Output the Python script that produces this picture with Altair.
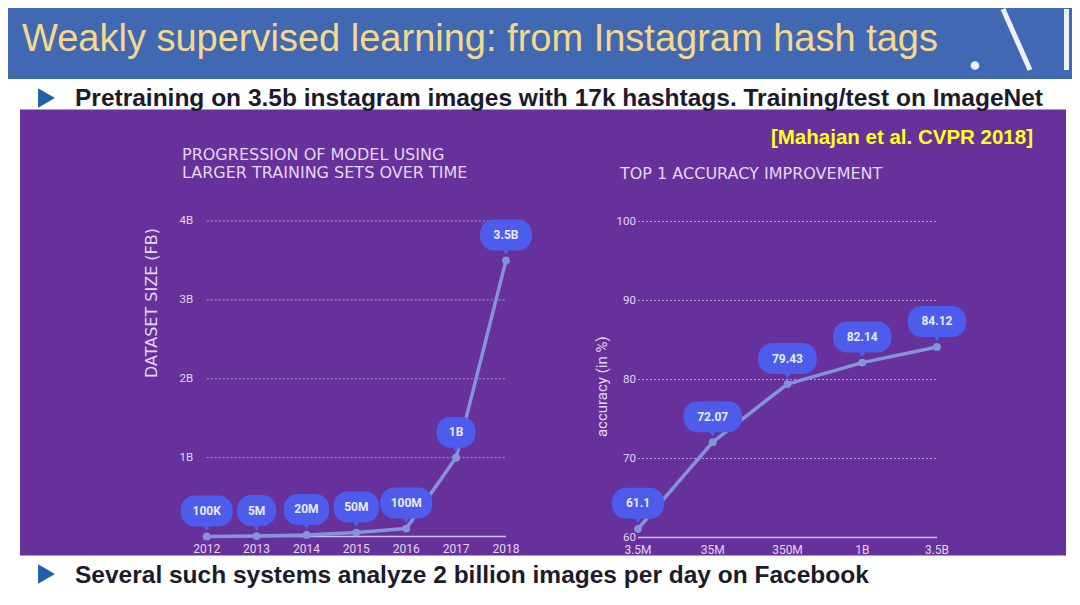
import altair as alt
import pandas as pd

# ---------------- data ----------------
years = [2012, 2013, 2014, 2015, 2016, 2017, 2018]
dataset_size_b = [0.0001, 0.005, 0.02, 0.05, 0.1, 1.0, 3.5]
size_labels = ["100K", "5M", "20M", "50M", "100M", "1B", "3.5B"]
size_ticks = [0, 1, 2, 3, 4]
size_tick_labels = ["", "1B", "2B", "3B", "4B"]

acc_buckets = ["3.5M", "35M", "350M", "1B", "3.5B"]
accuracy = [61.1, 72.07, 79.43, 82.14, 84.12]
acc_ticks = [60, 70, 80, 90, 100]

slide_title = "Weakly supervised learning: from Instagram hash tags"
bullet_1 = "Pretraining on 3.5b instagram images with 17k hashtags. Training/test on ImageNet"
bullet_2 = "Several such systems analyze 2 billion images per day on Facebook"
citation = "[Mahajan et al. CVPR 2018]"
left_title = ["PROGRESSION OF MODEL USING", "LARGER TRAINING SETS OVER TIME"]
right_title = "TOP 1 ACCURACY IMPROVEMENT"
left_ytitle = "DATASET SIZE (FB)"
right_ytitle = "accuracy (in %)"

# ---------------- styles ----------------
W, H = 1064, 589
HEAD = "#4169b3"
TITLE_C = "#f5d98b"
PURPLE = "#66319a"
BUB = "#4e5ceb"
LINE = "#8494dc"
GRID = "#b49ddb"
BASE = "#d2c1ee"
TICK = "#e3d7f4"
LBL = "#e8eaff"
CHART_FONT = "Roboto"
SLIDE_FONT = "Liberation Sans"

left_df = pd.DataFrame({"year": years, "size": dataset_size_b, "label": size_labels})
right_df = pd.DataFrame({"idx": list(range(len(acc_buckets))), "bucket": acc_buckets,
                         "acc": accuracy, "label": [f"{v:g}" for v in accuracy]})
gridL = pd.DataFrame({"v": size_ticks, "lab": size_tick_labels,
                      "x0": years[0], "x1": years[-1]})
gridR = pd.DataFrame({"v": acc_ticks, "lab": [str(t) for t in acc_ticks],
                      "x0": 0, "x1": len(acc_buckets) - 1})

xL = alt.Scale(domain=[years[0], years[-1]], range=[198.7, 498], nice=False, zero=False)
yL = alt.Scale(domain=[0, 4], range=[528.5, 213], nice=False, zero=False)
xR = alt.Scale(domain=[0, len(acc_buckets) - 1], range=[630, 929], nice=False, zero=False)
yR = alt.Scale(domain=[60, 100], range=[529.5, 213.5], nice=False, zero=False)

one = alt.Data(values=[{"a": 1}])


def txt(s, x, y, size, color, font=SLIDE_FONT, weight="normal", align="left",
        baseline="middle", angle=0):
    kw = dict(text=s, fontSize=size, color=color, font=font, fontWeight=weight,
              align=align, baseline=baseline)
    if angle:
        kw["angle"] = angle
    return alt.Chart(one).mark_text(**kw).encode(x=alt.value(x), y=alt.value(y))


# ---------------- decorations ----------------
header = alt.Chart(one).mark_rect(color=HEAD).encode(
    x=alt.value(0), x2=alt.value(W), y=alt.value(0), y2=alt.value(71))
panel = alt.Chart(one).mark_rect(color=PURPLE).encode(
    x=alt.value(12), x2=alt.value(1058), y=alt.value(101.5), y2=alt.value(547.5))
title = txt(slide_title, 14, 32, 38, TITLE_C)
logo_slash = alt.Chart(one).mark_rule(color="#eef0f8", strokeWidth=5).encode(
    x=alt.value(995), y=alt.value(1), x2=alt.value(1022), y2=alt.value(62))
logo_bar = alt.Chart(one).mark_rule(color="#eef0f8", strokeWidth=5).encode(
    x=alt.value(1058.5), y=alt.value(1), y2=alt.value(62))
logo_dot = alt.Chart(one).mark_circle(color="#eef0f8", size=75, opacity=1).encode(
    x=alt.value(967), y=alt.value(57.5))
tri1 = alt.Chart(one).mark_point(shape="triangle-right", filled=True, size=380,
                                 color="#1f5fae", opacity=1).encode(
    x=alt.value(38.5), y=alt.value(90))
tri2 = alt.Chart(one).mark_point(shape="triangle-right", filled=True, size=380,
                                 color="#1f5fae", opacity=1).encode(
    x=alt.value(38.5), y=alt.value(566))
b1 = txt(bullet_1, 67, 97.5, 24.5, "#1b1b2b", weight="bold", baseline="alphabetic")
b2 = txt(bullet_2, 67, 575, 24.5, "#1b1b2b", weight="bold", baseline="alphabetic")
cite = txt(citation, 1025, 130, 20.5, "#ffff1e", weight="bold", align="right")
lt1 = txt(left_title[0], 174, 147, 16, TICK, font="DejaVu Sans")
lt2 = txt(left_title[1], 174, 165, 16, TICK, font="DejaVu Sans")
rt = txt(right_title, 612, 165.5, 16, TICK, font="DejaVu Sans")
lyt = txt(left_ytitle, 144, 295, 16, TICK, font="DejaVu Sans", align="center", angle=270)
ryt = txt(right_ytitle, 593.7, 378.7, 15, TICK, font=CHART_FONT, align="center", angle=270)


# ---------------- panels ----------------
def panel_layers(df, xf, yf, xs, ys, grid, xlab_field, xlab_y, tick_dx):
    X = alt.X(xf, scale=xs, axis=None)
    Y = alt.Y(yf, scale=ys, axis=None)
    gX = alt.X("x0:Q", scale=xs, axis=None)
    gY = alt.Y("v:Q", scale=ys, axis=None)
    gridlines = alt.Chart(grid).transform_filter("datum.v > " + str(grid["v"].min())).mark_rule(
        color=GRID, strokeWidth=1, strokeDash=[2, 2]).encode(x=gX, x2="x1:Q", y=gY)
    baseline = alt.Chart(grid).transform_filter("datum.v == " + str(grid["v"].min())).mark_rule(
        color=BASE, strokeWidth=1.6).encode(x=gX, x2="x1:Q", y=gY)
    ticklab = alt.Chart(grid).mark_text(align="right", baseline="middle", fontSize=11.5,
                                        color=TICK, font=CHART_FONT, dx=tick_dx).encode(
        x=gX, y=gY, text="lab:N")
    xlab = alt.Chart(df).mark_text(align="center", baseline="middle", fontSize=12,
                                   color=TICK, font=CHART_FONT).encode(
        x=X, y=alt.value(xlab_y), text=xlab_field)
    line = alt.Chart(df).mark_line(color=LINE, strokeWidth=3.5).encode(x=X, y=Y)
    bubble = alt.Chart(df).transform_calculate(w="6.5*length(datum.label)+26").mark_rect(
        color=BUB, cornerRadius=14,
        xOffset=alt.ExprRef(expr="-datum.w/2"), x2Offset=alt.ExprRef(expr="datum.w/2"),
        yOffset=-41, y2Offset=-10).encode(x=X, x2=xf.split(":")[0] + ":Q", y=Y,
                                          y2=yf.split(":")[0] + ":Q")
    pointer = alt.Chart(df).mark_point(shape="triangle-down", filled=True, size=70,
                                       color=BUB, opacity=1, yOffset=-9).encode(x=X, y=Y)
    pts = alt.Chart(df).mark_circle(size=60, color=LINE, opacity=1).encode(x=X, y=Y)
    lab = alt.Chart(df).mark_text(color=LBL, fontSize=12, fontWeight="bold",
                                  font=CHART_FONT, yOffset=-25.5, baseline="middle").encode(
        x=X, y=Y, text="label:N")
    return [gridlines, baseline, ticklab, xlab, line, bubble, pointer, pts, lab]


left_layers = panel_layers(left_df, "year:Q", "size:Q", xL, yL, gridL,
                           alt.Text("year:Q", format="d"), 541, -13.5)
right_layers = panel_layers(right_df, "idx:Q", "acc:Q", xR, yR, gridR,
                            alt.Text("bucket:N"), 542, -2)

chart = alt.layer(
    header, panel, title, logo_slash, logo_bar, logo_dot, tri1, tri2, b1, b2, cite,
    lt1, lt2, rt, lyt, ryt, *left_layers, *right_layers
).resolve_scale(x="independent", y="independent").properties(
    width=W, height=H, autosize=alt.AutoSizeParams(type="none"), padding=0,
    background="white"
).configure_view(stroke=None)

chart.save("out.html", embed_options={"renderer": "svg", "actions": False})
